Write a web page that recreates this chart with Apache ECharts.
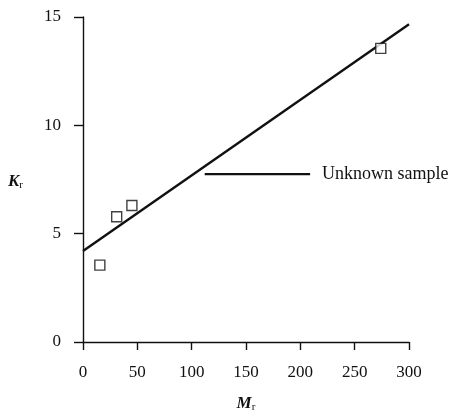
<!DOCTYPE html>
<html lang="en">
<head>
    <meta charset="UTF-8">
    <title>Kr vs Mr</title>
    <script type="text/javascript" src="https://cdn.jsdelivr.net/npm/echarts@6/dist/echarts.min.js"></script>
    <style>
        body { margin: 0; background: #fff; }
    </style>
</head>
<body>
<div id="main" style="width: 450px; height:412px;"></div>

<script>
    // measured points (Mr, Kr)
    var samples = [[15.5, 3.55], [31, 5.78], [45, 6.3], [274, 13.55]];
    // fitted line end points
    var fitLine = [[0, 4.2], [300, 14.67]];
    // unknown sample reading
    var unknownLine = [[112, 7.75], [209, 7.75]];
    var unknownLabel = 'Unknown sample';

    var serif = '"Liberation Serif", "DejaVu Serif", serif';
    var ink = '#111';

    var myChart = echarts.init(document.getElementById('main'));

    var nameRich = {
        i: { fontFamily: serif, fontStyle: 'italic', fontWeight: 'bold', fontSize: 17, color: ink },
        s: { fontFamily: serif, fontSize: 11, color: ink, verticalAlign: 'bottom', padding: [8, 0, 0, 0] }
    };

    var option = {
        backgroundColor: '#fff',
        animation: false,
        grid: {
            left: 83,
            right: 41,
            top: 17,
            bottom: 70,
            outerBoundsMode: 'none'
        },
        xAxis: {
            type: 'value',
            min: 0,
            max: 300,
            interval: 50,
            name: '{i|M}{s|r}',
            nameLocation: 'middle',
            nameGap: 52,
            nameTextStyle: { rich: nameRich },
            axisLine: { onZero: false, lineStyle: { color: ink, width: 1.4 } },
            axisTick: { length: 8, lineStyle: { color: ink, width: 1.4 } },
            axisLabel: { fontFamily: serif, fontSize: 17, color: ink, margin: 22 },
            splitLine: { show: false }
        },
        yAxis: {
            type: 'value',
            min: 0,
            max: 15,
            interval: 5,
            name: '{i|K}{s|r}',
            nameLocation: 'middle',
            nameRotate: 0,
            nameGap: 60,
            nameTextStyle: { rich: nameRich, padding: [4, 0, 0, 0] },
            axisLine: { onZero: false, lineStyle: { color: ink, width: 1.4 } },
            axisTick: { length: 9, lineStyle: { color: ink, width: 1.4 } },
            axisLabel: { fontFamily: serif, fontSize: 17, color: ink, margin: 22 },
            splitLine: { show: false }
        },
        series: [
            {
                type: 'line',
                data: fitLine,
                symbol: 'none',
                lineStyle: { color: ink, width: 2.4 }
            },
            {
                type: 'line',
                data: unknownLine,
                symbol: 'none',
                lineStyle: { color: ink, width: 2.2 },
                endLabel: {
                    show: true,
                    formatter: unknownLabel,
                    distance: 12,
                    fontFamily: serif,
                    fontSize: 18,
                    color: ink
                }
            },
            {
                type: 'scatter',
                data: samples,
                symbol: 'rect',
                symbolSize: 10,
                itemStyle: { color: '#fff', borderColor: ink, borderWidth: 1.4 },
                z: 5
            }
        ]
    };

    myChart.setOption(option);
</script>
</body>
</html>
